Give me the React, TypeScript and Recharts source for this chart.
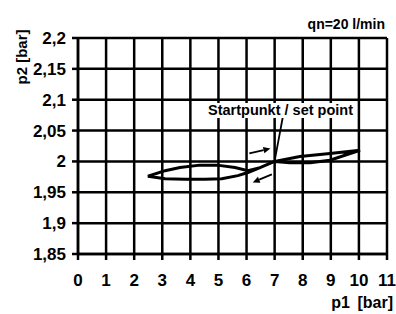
import React from "react"
import {
  LineChart,
  Line,
  XAxis,
  YAxis,
  CartesianGrid,
  ReferenceLine,
} from "recharts"

// hysteresis loop (starts and ends at the set point)
const p1Values = [
  7.0, 7.9, 8.97, 10.04, 9.5, 8.97, 8.26, 7.54, 7.0, 6.48, 6.05, 5.69, 5.12,
  4.52, 3.81, 3.1, 2.49, 3.1, 3.63, 4.34, 4.95, 5.59, 6.05, 6.48, 7.0,
]
const p2Values = [
  2.0, 2.008, 2.013, 2.018, 2.01, 2.002, 1.998, 1.998, 2.0, 1.99, 1.982, 1.977,
  1.972, 1.971, 1.971, 1.972, 1.976, 1.985, 1.99, 1.994, 1.994, 1.99, 1.985,
  1.99, 2.0,
]

const xTicks = [0, 1, 2, 3, 4, 5, 6, 7, 8, 9, 10, 11]
const yTicks = [1.85, 1.9, 1.95, 2.0, 2.05, 2.1, 2.15, 2.2]

const setPoint = { p1: 7.0, p2: 2.001 }
const leaderStart = { p1: 7.3, p2: 2.074 }
const arrowUp = [{ p1: 6.1, p2: 2.013 }, { p1: 6.85, p2: 2.021 }]
const arrowDown = [{ p1: 6.9, p2: 1.979 }, { p1: 6.22, p2: 1.966 }]

const data = p1Values.map((p1, i) => ({ p1, p2: p2Values[i] }))

const font = "'Liberation Sans', Arial, sans-serif"

function ArrowShape(props: any) {
  const { x1, y1, x2, y2 } = props
  const ang = Math.atan2(y2 - y1, x2 - x1)
  const len = 7
  const w = 3.2
  const bx = x2 - len * Math.cos(ang)
  const by = y2 - len * Math.sin(ang)
  const nx = -Math.sin(ang) * w
  const ny = Math.cos(ang) * w
  return (
    <g>
      <line x1={x1} y1={y1} x2={bx} y2={by} stroke="#000" strokeWidth={1.8} />
      <polygon
        points={`${x2},${y2} ${bx + nx},${by + ny} ${bx - nx},${by - ny}`}
        fill="#000"
      />
    </g>
  )
}

const fmt = (v: number) => String(v).replace(".", ",")

const tickStyle = { fill: "#000", fontSize: 17, fontFamily: font, fontWeight: 700 }

export default function App() {
  return (
    <div style={{ position: "relative", width: 396, height: 314, background: "#fff", fontFamily: font, fontWeight: 700 }}>
      <style>{"body{margin:0}"}</style>
      <LineChart
        width={396}
        height={314}
        data={data}
        margin={{ top: 38, right: 9, bottom: 0, left: 0 }}
      >
        <CartesianGrid stroke="#000" strokeWidth={2.5} />
        <XAxis
          dataKey="p1"
          type="number"
          domain={[0, 11]}
          ticks={xTicks}
          interval={0}
          height={60}
          tickSize={6}
          tickMargin={14}
          axisLine={{ stroke: "#000", strokeWidth: 2.5 }}
          tickLine={{ stroke: "#000", strokeWidth: 2.5 }}
          tick={tickStyle}
        />
        <YAxis
          type="number"
          domain={[1.85, 2.2]}
          ticks={yTicks}
          interval={0}
          width={78}
          tickSize={6}
          tickMargin={6}
          tickFormatter={fmt}
          axisLine={{ stroke: "#000", strokeWidth: 2.5 }}
          tickLine={{ stroke: "#000", strokeWidth: 2.5 }}
          tick={tickStyle}
        />
        <Line
          dataKey="p2"
          type="linear"
          stroke="#000"
          strokeWidth={3}
          dot={false}
          isAnimationActive={false}
        />
        <ReferenceLine
          segment={[
            { x: leaderStart.p1, y: leaderStart.p2 },
            { x: setPoint.p1, y: setPoint.p2 },
          ]}
          stroke="#000"
          strokeWidth={1.8}
        />
        <ReferenceLine
          segment={[
            { x: arrowUp[0].p1, y: arrowUp[0].p2 },
            { x: arrowUp[1].p1, y: arrowUp[1].p2 },
          ]}
          shape={ArrowShape}
        />
        <ReferenceLine
          segment={[
            { x: arrowDown[0].p1, y: arrowDown[0].p2 },
            { x: arrowDown[1].p1, y: arrowDown[1].p2 },
          ]}
          shape={ArrowShape}
        />
      </LineChart>
      <div style={{ position: "absolute", right: 11, top: 17, fontSize: 14, lineHeight: "15px", whiteSpace: "nowrap" }}>
        qn=20 l/min
      </div>
      <div style={{ position: "absolute", left: 207, top: 103, fontSize: 14.5, lineHeight: "15px", whiteSpace: "nowrap", background: "#fff", padding: "0 1px" }}>
        Startpunkt / set point
      </div>
      <div
        style={{
          position: "absolute",
          left: 22,
          top: 57,
          fontSize: 15,
          lineHeight: "16px",
          whiteSpace: "nowrap",
          transform: "translate(-50%, -50%) rotate(-90deg)",
        }}
      >
        p2 [bar]
      </div>
      <div style={{ position: "absolute", right: 3, top: 294, fontSize: 16, lineHeight: "17px", whiteSpace: "nowrap", wordSpacing: 3 }}>
        p1 [bar]
      </div>
    </div>
  )
}
